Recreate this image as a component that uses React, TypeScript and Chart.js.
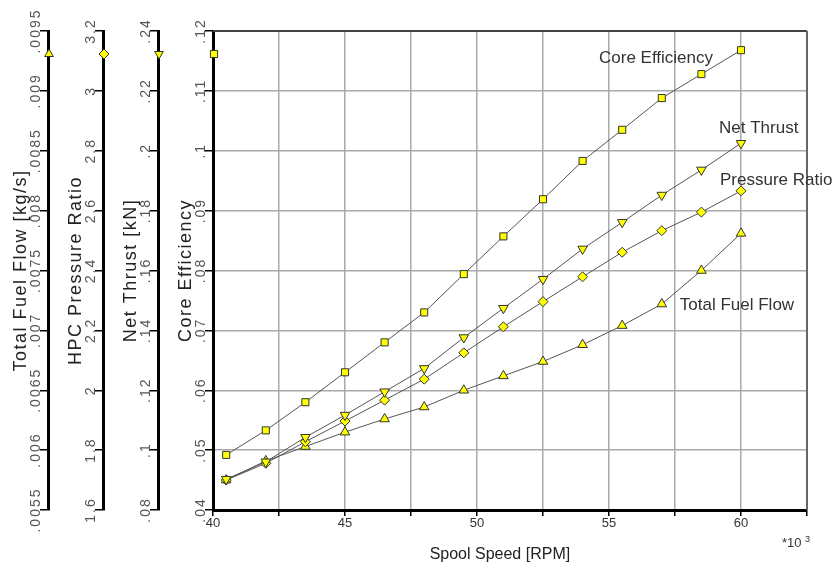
import React, { useEffect, useRef } from 'react';
import { Chart, registerables } from 'chart.js';

Chart.register(...registerables);

// ---- Data (spool speed in thousands of RPM) ----
const spoolSpeed = [40.5, 42, 43.5, 45, 46.5, 48, 49.5, 51, 52.5, 54, 55.5, 57, 58.5, 60];
const coreEfficiency = [0.0492, 0.0533, 0.058, 0.063, 0.068, 0.073, 0.0794, 0.0857, 0.0919, 0.0983, 0.1035, 0.1088, 0.1128, 0.1168];
const netThrust = [0.0903, 0.0961, 0.1043, 0.1117, 0.1195, 0.1273, 0.1376, 0.1474, 0.1571, 0.1672, 0.1761, 0.1852, 0.1936, 0.2025];
const pressureRatio = [1.7, 1.756, 1.828, 1.897, 1.967, 2.037, 2.125, 2.212, 2.296, 2.379, 2.461, 2.533, 2.595, 2.666];
const totalFuelFlow = [0.00575, 0.00591, 0.00603, 0.00615, 0.00626, 0.00636, 0.0065, 0.00662, 0.00674, 0.00688, 0.00704, 0.00722, 0.0075, 0.00781];

// ---- Axis ranges ----
const xRange = [40, 62.5];
const xGridStep = 2.5;
const xLabelStep = 5;
const fuelRange = [0.0055, 0.0095, 0.0005];
const prRange = [1.6, 3.2, 0.2];
const thrustRange = [0.08, 0.24, 0.02];
const coreRange = [0.04, 0.12, 0.01];

const axisTitles = ['Total Fuel Flow [kg/s]', 'HPC Pressure Ratio', 'Net Thrust [kN]', 'Core Efficiency'];
const seriesLabels = ['Core Efficiency', 'Net Thrust', 'Pressure Ratio', 'Total Fuel Flow'];
const xTitle = 'Spool Speed [RPM]';

const FONT = '"Liberation Sans", Arial, sans-serif';
const YELLOW = '#ffff00';
const OUTLINE = '#333333';

const fmt = (v: number) => {
  const s = String(parseFloat(v.toPrecision(6)));
  return s.startsWith('0.') ? s.slice(1) : s;
};

const toPts = (ys: number[]) => spoolSpeed.map((x, i) => ({ x, y: ys[i] }));

function drawMarker(ctx: CanvasRenderingContext2D, shape: string, x: number, y: number, r: number) {
  ctx.beginPath();
  if (shape === 'square') {
    const s = r * 0.72;
    ctx.rect(x - s, y - s, 2 * s, 2 * s);
  } else if (shape === 'diamond') {
    ctx.moveTo(x, y - r);
    ctx.lineTo(x + r, y);
    ctx.lineTo(x, y + r);
    ctx.lineTo(x - r, y);
    ctx.closePath();
  } else if (shape === 'up') {
    ctx.moveTo(x, y - r);
    ctx.lineTo(x + r * 0.87, y + r * 0.5);
    ctx.lineTo(x - r * 0.87, y + r * 0.5);
    ctx.closePath();
  } else {
    ctx.moveTo(x, y + r);
    ctx.lineTo(x + r * 0.87, y - r * 0.5);
    ctx.lineTo(x - r * 0.87, y - r * 0.5);
    ctx.closePath();
  }
  ctx.fillStyle = YELLOW;
  ctx.fill();
  ctx.lineWidth = 1;
  ctx.strokeStyle = OUTLINE;
  ctx.stroke();
}

const yAxisDefs = [
  { id: 'yFuel', title: axisTitles[0], marker: 'up' },
  { id: 'yPR', title: axisTitles[1], marker: 'diamond' },
  { id: 'yThrust', title: axisTitles[2], marker: 'down' },
  { id: 'yCore', title: axisTitles[3], marker: 'square' },
];

const customPlugin = {
  id: 'customDecor',
  beforeDatasetsDraw(chart: any) {
    const ctx = chart.ctx as CanvasRenderingContext2D;
    const ca = chart.chartArea;
    ctx.save();
    ctx.strokeStyle = '#444';
    ctx.lineWidth = 2;
    ctx.beginPath();
    ctx.moveTo(ca.left, ca.top);
    ctx.lineTo(ca.right, ca.top);
    ctx.stroke();
    ctx.strokeStyle = '#666';
    ctx.beginPath();
    ctx.moveTo(ca.right, ca.top);
    ctx.lineTo(ca.right, ca.bottom);
    ctx.stroke();
    ctx.restore();
  },
  afterDraw(chart: any) {
    const ctx = chart.ctx as CanvasRenderingContext2D;
    const ca = chart.chartArea;
    const midY = (ca.top + ca.bottom) / 2;

    yAxisDefs.forEach((def) => {
      const sc = chart.scales[def.id];
      const xr = sc.right;
      ctx.save();
      // tick labels
      ctx.font = `14px ${FONT}`;
      (ctx as any).letterSpacing = '2px';
      ctx.fillStyle = '#555';
      ctx.textAlign = 'center';
      ctx.textBaseline = 'alphabetic';
      sc.ticks.forEach((t: any, i: number) => {
        const y = sc.getPixelForTick(i);
        ctx.save();
        ctx.translate(xr - 8.5, y);
        ctx.rotate(-Math.PI / 2);
        ctx.fillText(fmt(t.value), 0, 0);
        ctx.restore();
      });
      // title
      ctx.font = `18px ${FONT}`;
      (ctx as any).letterSpacing = '1.5px';
      ctx.fillStyle = '#222';
      ctx.save();
      ctx.translate(xr - 22, midY);
      ctx.rotate(-Math.PI / 2);
      ctx.fillText(def.title, 0, 0);
      ctx.restore();
      (ctx as any).letterSpacing = '0px';
      // legend marker on axis
      drawMarker(ctx, def.marker, xr + 1, ca.top + 23, 5);
      ctx.restore();
    });

    // series labels anchored to their curves
    ctx.save();
    ctx.font = `17px ${FONT}`;
    ctx.fillStyle = '#333';
    ctx.textBaseline = 'alphabetic';
    const pt = (ds: number, idx: number) => chart.getDatasetMeta(ds).data[idx];
    let p = pt(0, spoolSpeed.length - 1);
    ctx.textAlign = 'right';
    ctx.fillText(seriesLabels[0], p.x - 28, p.y + 13);
    ctx.textAlign = 'left';
    p = pt(1, spoolSpeed.length - 1);
    ctx.fillText(seriesLabels[1], p.x - 22, p.y - 10);
    p = pt(2, spoolSpeed.length - 1);
    ctx.fillText(seriesLabels[2], p.x - 21, p.y - 6);
    p = pt(3, spoolSpeed.length - 3);
    ctx.fillText(seriesLabels[3], p.x + 18, p.y + 6);
    ctx.restore();

    // x-axis title and multiplier
    ctx.save();
    ctx.fillStyle = '#222';
    ctx.font = `16px ${FONT}`;
    ctx.textAlign = 'center';
    ctx.textBaseline = 'alphabetic';
    ctx.fillText(xTitle, ca.left + (ca.right - ca.left) * 0.483, ca.bottom + 49);
    ctx.textAlign = 'left';
    ctx.fillStyle = '#333';
    ctx.font = `13px ${FONT}`;
    ctx.fillText('*10', ca.right - 25, ca.bottom + 37);
    ctx.font = `9px ${FONT}`;
    ctx.fillText('3', ca.right - 2, ca.bottom + 32);
    ctx.restore();
  },
};

const sideAxis = (range: number[], weight: number, width: number, onChart: boolean) => ({
  type: 'linear',
  position: 'left',
  weight,
  min: range[0],
  max: range[1],
  ticks: { stepSize: range[2], display: false },
  grid: {
    drawOnChartArea: onChart,
    color: '#aaaaaa',
    lineWidth: 1.5,
    tickColor: '#000',
    tickWidth: 1.5,
    tickLength: 8,
  },
  border: { color: '#000', width: 3 },
  afterFit: (s: any) => {
    s.width = width;
  },
});

export default function App() {
  const ref = useRef<HTMLCanvasElement | null>(null);

  useEffect(() => {
    document.body.style.margin = '0';
    if (!ref.current) return;
    const common = {
      borderColor: '#555',
      borderWidth: 1,
      pointBackgroundColor: YELLOW,
      pointBorderColor: OUTLINE,
      pointBorderWidth: 1,
      tension: 0,
      fill: false,
    };
    const chart = new Chart(ref.current, {
      type: 'line',
      data: {
        datasets: [
          { ...common, label: seriesLabels[0], data: toPts(coreEfficiency), yAxisID: 'yCore', pointStyle: 'rect', pointRadius: 5 },
          { ...common, label: seriesLabels[1], data: toPts(netThrust), yAxisID: 'yThrust', pointStyle: 'triangle', pointRotation: 180, pointRadius: 5.5 },
          { ...common, label: seriesLabels[2], data: toPts(pressureRatio), yAxisID: 'yPR', pointStyle: 'rectRot', pointRadius: 5 },
          { ...common, label: seriesLabels[3], data: toPts(totalFuelFlow), yAxisID: 'yFuel', pointStyle: 'triangle', pointRadius: 5.5 },
        ],
      } as any,
      options: {
        animation: false,
        responsive: false,
        devicePixelRatio: 1,
        layout: { padding: { top: 31, right: 29, left: 0, bottom: 0 } },
        plugins: { legend: { display: false }, tooltip: { enabled: false } },
        scales: {
          x: {
            type: 'linear',
            min: xRange[0],
            max: xRange[1],
            ticks: {
              stepSize: xGridStep,
              autoSkip: false,
              maxRotation: 0,
              minRotation: 0,
              padding: 0,
              color: '#333',
              font: { size: 13, family: FONT },
              callback: (v: any) => (Math.abs(Number(v) % xLabelStep) < 1e-9 ? String(v) : ''),
            },
            grid: { color: '#aaaaaa', lineWidth: 1.5, tickColor: '#000', tickWidth: 1.5, tickLength: 6 },
            border: { color: '#000', width: 3 },
            afterFit: (s: any) => {
              s.height = 57;
            },
          },
          yCore: sideAxis(coreRange, 0, 55, true),
          yThrust: sideAxis(thrustRange, 1, 55, false),
          yPR: sideAxis(prRange, 2, 55, false),
          yFuel: sideAxis(fuelRange, 3, 48, false),
        } as any,
      },
      plugins: [customPlugin],
    });
    return () => chart.destroy();
  }, []);

  return <canvas ref={ref} width={836} height={567} style={{ display: 'block' }} />;
}
